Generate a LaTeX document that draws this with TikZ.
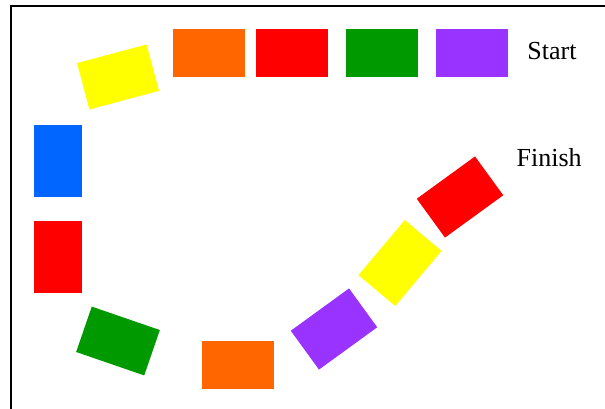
\documentclass[tikz,border=0pt]{standalone}
\usepackage{fontspec}
\setmainfont{Liberation Serif}
\definecolor{cOrange}{HTML}{FF6600}
\definecolor{cRed}{HTML}{FF0000}
\definecolor{cGreen}{HTML}{009900}
\definecolor{cPurple}{HTML}{9933FF}
\definecolor{cYellow}{HTML}{FFFF00}
\definecolor{cBlue}{HTML}{0066FF}
\begin{document}
\begin{tikzpicture}[x=1pt,y=-1pt,
  tile/.style={rectangle,inner sep=0pt,minimum width=72pt,minimum height=48pt,fill=#1},
  vtile/.style={rectangle,inner sep=0pt,minimum width=48pt,minimum height=72pt,fill=#1},
  lbl/.style={anchor=base,inner sep=0pt,font=\fontsize{26}{30}\selectfont}]
\useasboundingbox (0,0) rectangle (605,408);
\draw[line width=2pt] (11,420) -- (11,6) -- (620,6);
\node[tile=cYellow,rotate=15] (y1) at (118,77) {};
\node[tile=cOrange] (o1) at (208.5,53) {};
\node[tile=cRed] (r1) at (292,53) {};
\node[tile=cGreen] (g1) at (382,53) {};
\node[tile=cPurple] (p1) at (472,53) {};
\node[vtile=cBlue] (b1) at (58,161) {};
\node[vtile=cRed] (r2) at (58,257) {};
\node[tile=cGreen,rotate=-19] (g2) at (118,341) {};
\node[tile=cOrange] (o2) at (238,365) {};
\node[tile=cPurple,rotate=36] (p2) at (334,329) {};
\node[tile=cYellow,rotate=50] (y2) at (400,263) {};
\node[tile=cRed,rotate=36] (r3) at (460,197) {};
\node[lbl] (start) at (552,59.3) {Start};
\node[lbl] (finish) at (549.2,166.7) {Finish};
\end{tikzpicture}
\end{document}
